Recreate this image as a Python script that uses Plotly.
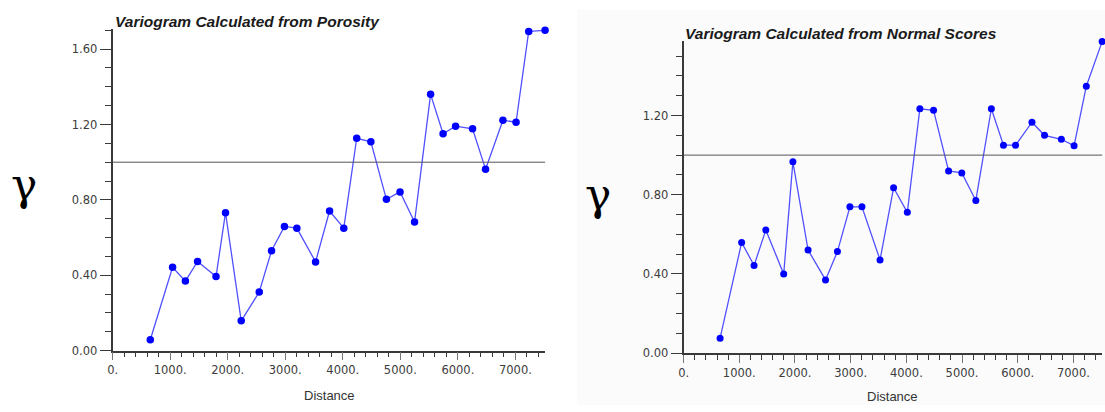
import plotly.graph_objects as go

# Lag distances shared by both experimental variograms
lag_distance = [655, 1042, 1265, 1476, 1797, 1962, 2235, 2548, 2762, 2986,
                3202, 3527, 3770, 4017, 4242, 4488, 4758, 4995, 5247, 5526,
                5743, 5960, 6255, 6481, 6783, 7011, 7231, 7515]

# Semivariance computed from porosity
gamma_porosity = [0.058, 0.442, 0.369, 0.473, 0.393, 0.732, 0.158, 0.311, 0.530, 0.659,
                  0.650, 0.471, 0.741, 0.650, 1.127, 1.108, 0.803, 0.842, 0.683, 1.360,
                  1.151, 1.191, 1.177, 0.963, 1.223, 1.212, 1.694, 1.700]

# Semivariance computed from normal scores
gamma_nscore = [0.076, 0.559, 0.443, 0.622, 0.400, 0.966, 0.521, 0.370, 0.513, 0.739,
                0.739, 0.471, 0.835, 0.711, 1.234, 1.226, 0.920, 0.910, 0.771, 1.234,
                1.050, 1.050, 1.166, 1.100, 1.080, 1.047, 1.348, 1.573]

sill = 1.0

x_tickvals = [0, 1000, 2000, 3000, 4000, 5000, 6000, 7000]
x_ticktext = ["0.", "1000.", "2000.", "3000.", "4000.", "5000.", "6000.", "7000."]
y_tickvals = [0.0, 0.4, 0.8, 1.2, 1.6]
y_ticktext = ["0.00", "0.40", "0.80", "1.20", "1.60"]

W, H = 1105, 412


def px(x):
    return x / W


def py(y):
    return 1 - y / H


LINE_BLUE = "rgb(80,80,255)"
DOT_BLUE = "rgb(0,0,255)"
AXIS = "#3a3a3a"
TICKFONT = dict(family="DejaVu Sans, Verdana, sans-serif", size=11.5, color="#3c3c3c")

fig = go.Figure()

fig.add_trace(go.Scatter(
    x=lag_distance, y=gamma_porosity, mode="lines+markers",
    line=dict(color=LINE_BLUE, width=1.3),
    marker=dict(color=DOT_BLUE, size=7.5),
    xaxis="x", yaxis="y", showlegend=False, cliponaxis=False))

fig.add_trace(go.Scatter(
    x=lag_distance, y=gamma_nscore, mode="lines+markers",
    line=dict(color=LINE_BLUE, width=1.3),
    marker=dict(color=DOT_BLUE, size=7),
    xaxis="x2", yaxis="y2", showlegend=False, cliponaxis=False))


def xaxis_cfg(domain, anchor):
    return dict(
        domain=domain, anchor=anchor, range=[0, 7520],
        showline=True, linecolor=AXIS, linewidth=1.5,
        showgrid=False, zeroline=False,
        tickmode="array", tickvals=x_tickvals, ticktext=x_ticktext,
        ticks="outside", ticklen=8, tickwidth=1, tickcolor="#777777",
        minor=dict(dtick=200, tick0=0, ticks="outside", ticklen=5,
                   tickwidth=1, tickcolor=AXIS, showgrid=False),
        tickfont=TICKFONT, fixedrange=True)


def yaxis_cfg(domain, anchor, top):
    return dict(
        domain=domain, anchor=anchor, range=[0, top],
        showline=True, linecolor=AXIS, linewidth=1.8,
        showgrid=False, zeroline=False,
        tickmode="array", tickvals=y_tickvals, ticktext=y_ticktext,
        ticks="outside", ticklen=11, tickwidth=1, tickcolor=AXIS,
        minor=dict(dtick=0.1, tick0=0, ticks="outside", ticklen=6,
                   tickwidth=1, tickcolor=AXIS, showgrid=False),
        tickfont=TICKFONT, fixedrange=True)


# Left panel geometry
L_x0, L_x1 = 108.1, 542.8
L_y0 = 356.7
L_top = 1.705
L_y1 = L_y0 - L_top * 191.7

# Right panel geometry
R_x0, R_x1 = 681.7, 1102.4
R_y0 = 359.3
R_top = 1.575
R_y1 = R_y0 - R_top * 201.5

fig.update_layout(
    width=W, height=H,
    margin=dict(l=0, r=0, t=0, b=0),
    paper_bgcolor="white", plot_bgcolor="rgba(0,0,0,0)",
    xaxis=xaxis_cfg([px(L_x0), px(L_x1)], "y"),
    yaxis=yaxis_cfg([py(L_y0), py(L_y1)], "x", L_top),
    xaxis2=xaxis_cfg([px(R_x0), px(R_x1)], "y2"),
    yaxis2=yaxis_cfg([py(R_y0), py(R_y1)], "x2", R_top),
)

shapes = [
    # faint panel behind the normal-score plot
    dict(type="rect", xref="paper", yref="paper", layer="below",
         x0=px(575), x1=1, y0=0, y1=py(10),
         fillcolor="#fbfbfb", line=dict(width=0)),
    # sill lines
    dict(type="line", xref="x", yref="y", x0=0, x1=7520, y0=sill, y1=sill,
         line=dict(color="#555555", width=1)),
    dict(type="line", xref="x2", yref="y2", x0=0, x1=7520, y0=sill, y1=sill,
         line=dict(color="#555555", width=1)),
]
fig.update_layout(shapes=shapes)

TITLE_FONT = dict(family="Liberation Sans, Arial, sans-serif", size=15.5,
                  color="#1a1a1a", weight="bold", style="italic")
GAMMA_FONT = dict(family="DejaVu Serif, serif", size=44, color="black")
LABEL_FONT = dict(family="Liberation Sans, Arial, sans-serif", size=13, color="#333333")

annotations = [
    dict(text="Variogram Calculated from Porosity", x=px(108), y=py(22),
         xref="paper", yref="paper", xanchor="left", yanchor="middle",
         showarrow=False, font=TITLE_FONT),
    dict(text="Variogram Calculated from Normal Scores", x=px(681), y=py(34),
         xref="paper", yref="paper", xanchor="left", yanchor="middle",
         showarrow=False, font=TITLE_FONT),
    dict(text="γ", x=px(19), y=py(188), xref="paper", yref="paper",
         xanchor="center", yanchor="middle", showarrow=False, font=GAMMA_FONT),
    dict(text="γ", x=px(596), y=py(198), xref="paper", yref="paper",
         xanchor="center", yanchor="middle", showarrow=False, font=GAMMA_FONT),
    dict(text="Distance", x=px(326), y=py(402), xref="paper", yref="paper",
         xanchor="center", yanchor="middle", showarrow=False, font=LABEL_FONT),
    dict(text="Distance", x=px(892), y=py(403), xref="paper", yref="paper",
         xanchor="center", yanchor="middle", showarrow=False, font=LABEL_FONT),
]
fig.update_layout(annotations=annotations)

fig.write_html("out.html")
